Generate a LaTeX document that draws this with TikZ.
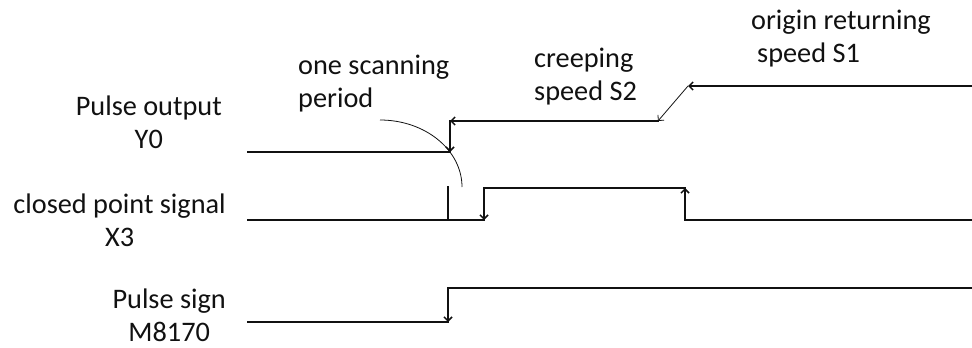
\documentclass[tikz,border=0pt]{standalone}
\usepackage{fontspec}
\setmainfont{Carlito}
\usetikzlibrary{arrows.meta}
\definecolor{wvInk}{HTML}{111111}
\tikzset{
  wave/.style   = {line width=1.5pt, color=wvInk, line cap=rect},
  thin/.style   = {line width=0.8pt, color=wvInk},
  tip/.style    = {-{Straight Barb[length=4pt,width=8pt]}},
  lbl/.style    = {font=\fontsize{28.3}{32.5}\selectfont, color=wvInk, inner sep=0pt},
}
\begin{document}
\begin{tikzpicture}[x=1pt, y=-1pt]
\useasboundingbox (0,0) rectangle (972,348);

% --- labels on the left (base = last line) ---
\node[lbl, align=center, anchor=base east] (lY) at (222,148) {Pulse output\\Y0};
\node[lbl, align=center, anchor=base east] (lX) at (226,246) {closed point signal\\X3};
\node[lbl, align=center, anchor=base east] (lM) at (226,341) {Pulse sign\\M8170};

% --- labels on top ---
\node[lbl, align=left, anchor=base west] (lscan) at (298,107) {one scanning\\period};
\node[lbl, align=left, anchor=base west] (lS2) at (534,100) {creeping\\speed S2};
\node[lbl, align=left, anchor=base west] (lS1) at (751,62) {origin returning\\\hspace*{6pt}speed S1};

% --- pulse output Y0 ---
\coordinate (y0a) at (248,152);
\coordinate (y0b) at (450,152);
\coordinate (y0c) at (450,121);
\coordinate (y0d) at (658,121);
\coordinate (y0e) at (688,86);
\coordinate (y0f) at (972,86);
\draw[wave] (y0a) -- (y0b);
\draw[wave, tip] (y0f) -- (y0e);
\draw[thin, tip] (y0e) -- (y0d);
\draw[wave, tip] (y0d) -- (y0c);
\draw[wave, tip] (y0c) -- (y0b);

% scanning period mark
\draw[thin] (380,120) arc[start angle=90, end angle=0, x radius=82pt, y radius=67pt];

% --- closed point signal X3 ---
\coordinate (x3a) at (248,220);
\coordinate (x3t) at (448,187);
\coordinate (x3u) at (448,220);
\coordinate (x3b) at (484,220);
\coordinate (x3c) at (484,188);
\coordinate (x3d) at (685,188);
\coordinate (x3e) at (685,220);
\coordinate (x3f) at (972,220);
\draw[wave] (x3a) -- (x3b);
\draw[wave] (x3t) -- (x3u);
\draw[wave, tip] (x3c) -- (x3b);
\draw[wave] (x3c) -- (x3d);
\draw[wave, tip] (x3e) -- (x3d);
\draw[wave] (x3e) -- (x3f);

% --- pulse sign M8170 ---
\coordinate (m0a) at (248,322);
\coordinate (m0b) at (448,322);
\coordinate (m0c) at (448,288);
\coordinate (m0d) at (972,288);
\draw[wave] (m0a) -- (m0b);
\draw[wave, tip] (m0c) -- (m0b);
\draw[wave] (m0c) -- (m0d);

\end{tikzpicture}
\end{document}
